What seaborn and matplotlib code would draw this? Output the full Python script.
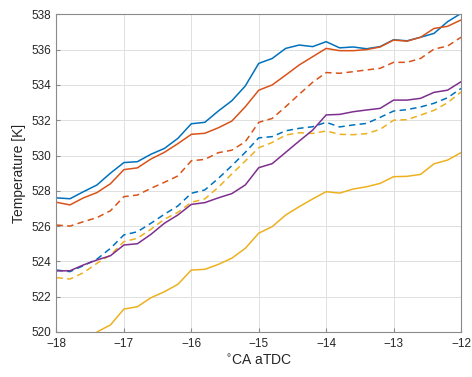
import numpy as np
import pandas as pd
import matplotlib
matplotlib.use("Agg")
import matplotlib.pyplot as plt
import seaborn as sns

# Crank angle positions (deg aTDC)
crank = [-18.0, -17.8, -17.6, -17.4, -17.2, -17.0, -16.8, -16.6, -16.4, -16.2,
         -16.0, -15.8, -15.6, -15.4, -15.2, -15.0, -14.8, -14.6, -14.4, -14.2,
         -14.0, -13.8, -13.6, -13.4, -13.2, -13.0, -12.8, -12.6, -12.4, -12.2, -12.0]

blue_solid = [527.6, 527.55, 527.95, 528.33, 529.0, 529.6, 529.65, 530.07, 530.4, 530.97,
              531.8, 531.88, 532.52, 533.1, 533.94, 535.22, 535.5, 536.07, 536.26, 536.17,
              536.45, 536.1, 536.15, 536.05, 536.17, 536.56, 536.5, 536.7, 536.92, 537.58, 538.05]

orange_solid = [527.35, 527.2, 527.6, 527.9, 528.4, 529.2, 529.3, 529.8, 530.18, 530.67,
                531.2, 531.26, 531.57, 531.95, 532.76, 533.7, 534.0, 534.56, 535.13, 535.6,
                536.07, 535.94, 535.94, 536.0, 536.15, 536.54, 536.48, 536.7, 537.2, 537.32, 537.68]

orange_dashed = [526.06, 526.0, 526.25, 526.48, 526.87, 527.67, 527.76, 528.14, 528.48, 528.84,
                 529.7, 529.78, 530.16, 530.3, 530.78, 531.88, 532.1, 532.77, 533.47, 534.15,
                 534.7, 534.66, 534.75, 534.85, 534.94, 535.28, 535.28, 535.5, 536.03, 536.2, 536.7]

blue_dashed = [523.51, 523.42, 523.76, 524.13, 524.74, 525.5, 525.68, 526.16, 526.67, 527.14,
               527.86, 528.05, 528.7, 529.42, 530.18, 531.0, 531.07, 531.4, 531.54, 531.63,
               531.88, 531.62, 531.73, 531.82, 532.16, 532.52, 532.6, 532.75, 532.96, 533.27, 533.8]

yellow_dashed = [523.08, 523.0, 523.36, 523.89, 524.36, 525.12, 525.31, 525.82, 526.39, 526.78,
                 527.35, 527.54, 528.2, 528.95, 529.69, 530.44, 530.74, 531.16, 531.29, 531.25,
                 531.39, 531.2, 531.18, 531.24, 531.48, 532.0, 532.03, 532.29, 532.56, 532.99, 533.6]

purple_solid = [523.46, 523.47, 523.8, 524.08, 524.32, 524.93, 525.0, 525.53, 526.16, 526.63,
                527.23, 527.33, 527.6, 527.84, 528.33, 529.31, 529.54, 530.18, 530.82, 531.44,
                532.3, 532.33, 532.48, 532.58, 532.67, 533.14, 533.14, 533.24, 533.58, 533.7, 534.18]

crank_late = crank[3:]
yellow_solid = [520.0, 520.4, 521.3, 521.43, 521.94, 522.28, 522.7,
                523.51, 523.55, 523.83, 524.18, 524.74, 525.6, 525.97, 526.63, 527.1, 527.54,
                527.95, 527.87, 528.1, 528.23, 528.42, 528.8, 528.82, 528.93, 529.53, 529.74, 530.16]

C_BLUE = "#0072BD"
C_ORANGE = "#D95319"
C_YELLOW = "#EDB120"
C_PURPLE = "#7E2F8E"

sns.set_theme(style="white")
plt.rcParams["font.family"] = ["Liberation Sans", "DejaVu Sans"]

fig = plt.figure(figsize=(4.72, 3.77), dpi=100)
ax = fig.add_axes([0.1197, 0.1194, 0.8570, 0.8426])

series = [
    (crank, blue_solid, C_BLUE, "-"),
    (crank, orange_solid, C_ORANGE, "-"),
    (crank, orange_dashed, C_ORANGE, "--"),
    (crank, blue_dashed, C_BLUE, "--"),
    (crank, yellow_dashed, C_YELLOW, "--"),
    (crank, purple_solid, C_PURPLE, "-"),
    (crank_late, yellow_solid, C_YELLOW, "-"),
]

for xs, ys, col, ls in series:
    df = pd.DataFrame({"ca": xs, "T": ys})
    sns.lineplot(data=df, x="ca", y="T", ax=ax, color=col, linestyle="-",
                 linewidth=1.1, estimator=None, errorbar=None, sort=False)
    if ls == "--":
        ax.lines[-1].set_dashes((4.2, 2.8))

ax.set_xlim(-18, -12)
ax.set_ylim(520, 538)
ax.set_xticks(np.arange(-18, -11, 1))
ax.set_yticks(np.arange(520, 539, 2))
ax.grid(True, color="#e0e0e0", linewidth=0.7)
ax.set_axisbelow(True)

for side in ["left", "bottom", "right", "top"]:
    ax.spines[side].set_visible(True)
    ax.spines[side].set_color("#8a8a8a")
    ax.spines[side].set_linewidth(0.8)

ax.tick_params(axis="both", which="major", direction="in", length=3, width=0.8,
               color="#8a8a8a", labelsize=8.5, labelcolor="#262626", pad=4,
               bottom=True, left=True, top=False, right=False)

ax.set_xlabel(r"$^{\circ}$CA aTDC", fontsize=10, color="#262626", labelpad=3)
ax.set_ylabel("Temperature [K]", fontsize=10, color="#262626", labelpad=4)

fig.savefig("out.png", dpi=100)
